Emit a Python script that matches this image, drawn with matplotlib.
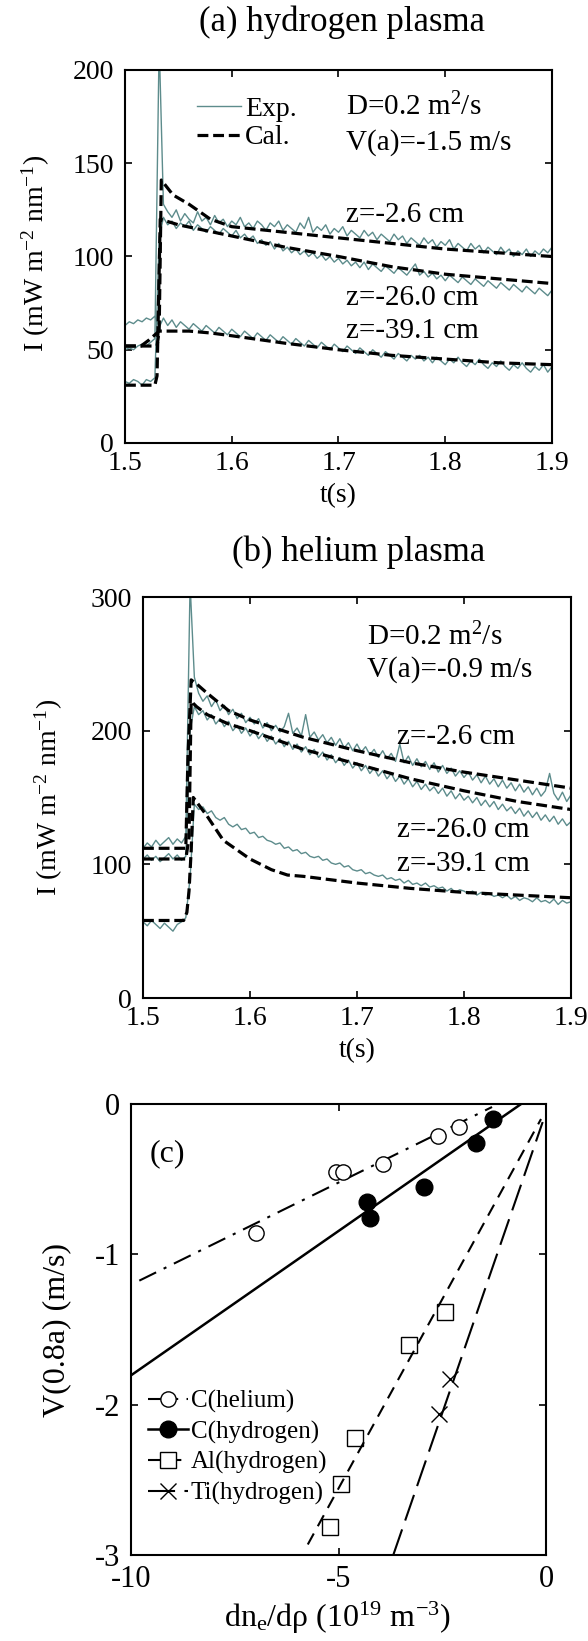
import numpy as np
import matplotlib
matplotlib.use('Agg')
import matplotlib.pyplot as plt
from matplotlib.lines import Line2D

plt.rcParams['font.family'] = ['Liberation Serif', 'DejaVu Serif']
plt.rcParams['mathtext.fontset'] = 'custom'
plt.rcParams['mathtext.rm'] = 'Liberation Serif'
plt.rcParams['mathtext.it'] = 'Liberation Serif:italic'
plt.rcParams['mathtext.bf'] = 'Liberation Serif:bold'
plt.rcParams['axes.unicode_minus'] = False

# ---------------- data: panel (a) hydrogen plasma ----------------
t_exp = 1.5 + 0.004 * np.arange(101)          # sampling times of the measured traces (s)

exp_a_z26 = [50, 51, 50, 52, 53, 52, 54, 56, 215, 128, 124, 121, 125, 119, 123, 120, 118, 124, 119, 121,
             117, 122, 118, 120, 116, 119, 117, 121, 116, 118, 115, 119, 117, 114, 118, 116, 119, 114, 117, 115,
             113, 118, 115, 121, 113, 116, 114, 117, 112, 115, 113, 116, 111, 114, 112, 110, 114, 111, 113, 109,
             112, 110, 108, 112, 109, 111, 107, 110, 108, 106, 110, 107, 109, 105, 108, 106, 109, 104, 107, 105,
             103, 107, 104, 106, 102, 105, 103, 101, 105, 102, 104, 100, 103, 101, 104, 100, 103, 101, 104, 102, 105]
exp_a_z260 = [33, 32, 34, 33, 31, 34, 33, 35, 110, 121, 117, 119, 115, 118, 116, 119, 114, 117, 115, 113,
              116, 114, 112, 115, 113, 111, 114, 110, 112, 109, 111, 107, 109, 106, 108, 104, 107, 103, 105, 102,
              104, 101, 103, 100, 102, 99, 101, 98, 100, 97, 99, 96, 98, 95, 97, 94, 97, 93, 96, 94,
              92, 95, 93, 91, 94, 92, 90, 93, 96, 90, 92, 89, 91, 88, 90, 87, 90, 88, 86, 89,
              87, 85, 88, 86, 84, 87, 85, 83, 86, 84, 82, 85, 83, 81, 84, 82, 80, 83, 81, 79, 82]
exp_a_z391 = [63, 65, 64, 66, 65, 67, 66, 68, 62, 67, 63, 66, 62, 65, 63, 61, 64, 62, 60, 63,
              61, 59, 62, 60, 58, 61, 59, 57, 60, 58, 56, 59, 57, 55, 58, 56, 54, 57, 55, 53,
              56, 54, 52, 55, 53, 51, 54, 52, 50, 53, 51, 49, 52, 50, 48, 51, 49, 47, 50, 48,
              46, 49, 47, 45, 48, 46, 44, 47, 45, 47, 44, 46, 43, 46, 44, 42, 45, 43, 46, 43,
              41, 44, 42, 45, 42, 40, 43, 41, 44, 41, 39, 42, 40, 43, 40, 38, 41, 39, 42, 38, 41]

cal_a_t1 = [1.500, 1.530, 1.532, 1.534, 1.545, 1.560, 1.580, 1.600, 1.650, 1.700, 1.750, 1.800, 1.850, 1.900]
cal_a_z26 = [52, 52, 60, 141, 133, 128, 120, 116, 113, 110, 107, 104, 102, 100]
cal_a_t2 = [1.500, 1.528, 1.530, 1.533, 1.550, 1.600, 1.650, 1.700, 1.750, 1.800, 1.850, 1.900]
cal_a_z260 = [31, 31, 36, 120, 117, 111, 105, 100, 94.5, 90.5, 88, 85.5]
cal_a_t3 = [1.500, 1.515, 1.522, 1.528, 1.532, 1.560, 1.580, 1.600, 1.650, 1.700, 1.750, 1.800, 1.850, 1.900]
cal_a_z391 = [52, 52, 55, 58, 60, 60, 59, 57.5, 53.5, 50, 47, 45, 43, 42]

# ---------------- data: panel (b) helium plasma ----------------
exp_b_z26 = [112, 116, 113, 118, 114, 117, 120, 115, 119, 116, 121, 310, 240, 228, 222, 226, 218, 223, 215, 219,
             212, 216, 209, 213, 206, 210, 205, 209, 202, 206, 200, 204, 199, 203, 213, 198, 202, 196, 212, 195,
             199, 193, 197, 191, 195, 189, 194, 187, 191, 185, 190, 184, 188, 182, 186, 180, 185, 179, 183, 177,
             190, 176, 181, 174, 179, 173, 177, 171, 176, 169, 174, 168, 172, 166, 170, 165, 169, 163, 167, 161,
             166, 160, 164, 158, 163, 157, 161, 155, 160, 154, 158, 152, 157, 151, 155, 168, 153, 148, 154, 147, 152]
exp_b_z260 = [104, 107, 103, 106, 102, 105, 108, 104, 107, 103, 106, 200, 218, 212, 215, 208, 212, 205, 209, 203,
              207, 200, 204, 198, 202, 196, 200, 194, 198, 192, 196, 190, 194, 188, 192, 186, 190, 184, 188, 182,
              186, 180, 184, 178, 182, 176, 180, 174, 178, 172, 176, 170, 174, 168, 172, 166, 170, 164, 168, 162,
              166, 160, 164, 158, 162, 156, 160, 155, 158, 153, 157, 151, 155, 149, 153, 148, 151, 146, 150, 144,
              148, 143, 147, 141, 145, 140, 143, 138, 142, 136, 140, 135, 139, 133, 137, 132, 136, 130, 134, 129, 132]
exp_b_z391 = [57, 54, 58, 55, 52, 56, 53, 50, 55, 57, 60, 90, 145, 141, 143, 138, 140, 135, 133, 135,
              130, 128, 130, 126, 127, 123, 124, 120, 121, 118, 117, 115, 116, 112, 113, 110, 111, 108, 109, 106,
              105, 106, 103, 104, 101, 100, 101, 98, 99, 96, 95, 96, 93, 94, 92, 91, 92, 89, 90, 88,
              89, 86, 88, 85, 86, 84, 86, 83, 84, 82, 83, 80, 82, 79, 81, 80, 78, 80, 77, 79,
              77, 78, 76, 77, 75, 77, 74, 76, 73, 75, 74, 72, 75, 72, 73, 71, 74, 70, 73, 71, 72]

cal_b_t1 = [1.500, 1.540, 1.542, 1.545, 1.550, 1.560, 1.580, 1.600, 1.650, 1.700, 1.750, 1.800, 1.850, 1.900]
cal_b_z26 = [112, 112, 180, 238, 235, 228, 215, 208, 195, 185, 176, 169, 163, 157]
cal_b_t2 = [1.500, 1.540, 1.543, 1.545, 1.550, 1.560, 1.580, 1.600, 1.650, 1.700, 1.750, 1.800, 1.850, 1.900]
cal_b_z260 = [104, 104, 120, 222, 218, 212, 205, 200, 186, 175, 164, 155, 147, 141]
cal_b_t3 = [1.500, 1.538, 1.541, 1.543, 1.545, 1.547, 1.560, 1.575, 1.600, 1.620, 1.635, 1.650, 1.700, 1.750,
            1.800, 1.850, 1.900]
cal_b_z391 = [58, 58, 64, 80, 110, 150, 136, 118, 104, 96, 92, 91, 86, 82, 79, 77, 75]

# ---------------- data: panel (c) ----------------
c_he_x = [-7.0, -5.05, -4.9, -3.92, -2.6, -2.1]
c_he_y = [-0.855, -0.455, -0.455, -0.40, -0.21, -0.15]
c_he_fit_x = [-9.8, -1.3]
c_he_fit_y = [-1.175, -0.02]

c_h_x = [-1.28, -1.68, -2.95, -4.32, -4.25]
c_h_y = [-0.10, -0.26, -0.55, -0.655, -0.76]
c_h_fit_x = [-10.0, -0.6]
c_h_fit_y = [-1.805, 0.0]

al_x = [-2.43, -3.3, -4.6, -4.94, -5.21]
al_y = [-1.385, -1.605, -2.22, -2.53, -2.815]
al_fit_x = [-5.74, -0.12]
al_fit_y = [-2.93, -0.10]

ti_x = [-2.31, -2.57]
ti_y = [-1.83, -2.06]
ti_fit_x = [-3.68, -0.08]
ti_fit_y = [-3.0, -0.12]

time_ticks = [1.5, 1.6, 1.7, 1.8, 1.9]
time_ticklabels = ['1.5', '1.6', '1.7', '1.8', '1.9']
a_yticks = [0, 50, 100, 150, 200]
b_yticks = [0, 100, 200, 300]
c_xticks = [-10, -5, 0]
c_xticklabels = ['-10', '-5', '0']
c_yticks = [-3, -2, -1, 0]
c_yticklabels = ['-3', '-2', '-1', '0']

# ---------------- figure ----------------
W, H = 588, 1641
fig = plt.figure(figsize=(W / 100, H / 100), dpi=100)

def box(l, t, r, b):
    return [l / W, 1 - b / H, (r - l) / W, (b - t) / H]

EXPC = '#5d8c8c'
CAL_LS = (0, (3.4, 1.5))

def style(ax, fs, xpad=6, ypad=8):
    for s in ax.spines.values():
        s.set_linewidth(1.5)
    ax.tick_params(direction='in', top=True, right=True, length=5, width=1.2, labelsize=fs)
    ax.tick_params(axis='x', pad=xpad)
    ax.tick_params(axis='y', pad=ypad)

# panel (a)
axa = fig.add_axes(box(125, 70, 552, 443))
for ys in (exp_a_z26, exp_a_z260, exp_a_z391):
    axa.plot(t_exp, ys, color=EXPC, lw=1.0, zorder=2)
axa.plot(cal_a_t1, cal_a_z26, color='black', lw=2.3, ls=CAL_LS, zorder=3)
axa.plot(cal_a_t2, cal_a_z260, color='black', lw=2.3, ls=CAL_LS, zorder=3)
axa.plot(cal_a_t3, cal_a_z391, color='black', lw=2.3, ls=CAL_LS, zorder=3)
axa.set_xlim(1.5, 1.9)
axa.set_ylim(0, 200)
axa.set_xticks(time_ticks)
axa.set_xticklabels(time_ticklabels)
axa.set_yticks(a_yticks)
style(axa, 20)
axa.set_xlabel('t(s)', fontsize=20, va='center')
axa.xaxis.set_label_coords(0.499, -0.14)
axa.set_ylabel('I (mW m$^{-2}$ nm$^{-1}$)', fontsize=20, va='center')
axa.yaxis.set_label_coords(-0.208, 0.507)
hl = [Line2D([], [], color=EXPC, lw=1.0), Line2D([], [], color='black', lw=2.3, ls=CAL_LS)]
axa.legend(hl, ['Exp.', 'Cal.'], loc='upper left', bbox_to_anchor=(0.169, 0.93), frameon=False,
           fontsize=20, handlelength=1.58, handletextpad=0.15, labelspacing=0.12,
           borderpad=0, borderaxespad=0)
for s, yv in (('D=0.2 m$^2$/s', 180), ('V(a)=-1.5 m/s', 161), ('z=-2.6 cm', 122),
              ('z=-26.0 cm', 77.5), ('z=-39.1 cm', 60)):
    axa.text(1.707, yv, s, fontsize=21, ha='left', va='center')
fig.text(342 / W, 1 - 22 / H, '(a) hydrogen plasma', fontsize=25, ha='center', va='center')

# panel (b)
axb = fig.add_axes(box(143, 597, 571, 998))
for ys in (exp_b_z26, exp_b_z260, exp_b_z391):
    axb.plot(t_exp, ys, color=EXPC, lw=1.0, zorder=2)
axb.plot(cal_b_t1, cal_b_z26, color='black', lw=2.3, ls=CAL_LS, zorder=3)
axb.plot(cal_b_t2, cal_b_z260, color='black', lw=2.3, ls=CAL_LS, zorder=3)
axb.plot(cal_b_t3, cal_b_z391, color='black', lw=2.3, ls=CAL_LS, zorder=3)
axb.set_xlim(1.5, 1.9)
axb.set_ylim(0, 300)
axb.set_xticks(time_ticks)
axb.set_xticklabels(time_ticklabels)
axb.set_yticks(b_yticks)
style(axb, 20)
axb.set_xlabel('t(s)', fontsize=20, va='center')
axb.xaxis.set_label_coords(0.5, -0.13)
axb.set_ylabel('I (mW m$^{-2}$ nm$^{-1}$)', fontsize=20, va='center')
axb.yaxis.set_label_coords(-0.22, 0.50)
for s, xv, yv in (('D=0.2 m$^2$/s', 1.709, 270), ('V(a)=-0.9 m/s', 1.709, 246),
                  ('z=-2.6 cm', 1.737, 195), ('z=-26.0 cm', 1.737, 126), ('z=-39.1 cm', 1.737, 100)):
    axb.text(xv, yv, s, fontsize=21, ha='left', va='center')
fig.text(359 / W, 1 - 552 / H, '(b) helium plasma', fontsize=25, ha='center', va='center')

# panel (c)
axc = fig.add_axes(box(131, 1104, 546, 1555))
LS_HE = (0, (9, 4, 1.5, 4))
LS_AL = (0, (6, 4))
LS_TI = (0, (13, 4.5))
axc.plot(c_he_fit_x, c_he_fit_y, color='black', lw=1.5, ls=LS_HE)
axc.plot(c_h_fit_x, c_h_fit_y, color='black', lw=1.8, ls='-')
axc.plot(al_fit_x, al_fit_y, color='black', lw=1.5, ls=LS_AL)
axc.plot(ti_fit_x, ti_fit_y, color='black', lw=1.5, ls=LS_TI)
axc.plot(c_he_x, c_he_y, ls='none', marker='o', ms=11, mfc='white', mec='black', mew=1.0, zorder=4)
axc.plot(c_h_x, c_h_y, ls='none', marker='o', ms=12, mfc='black', mec='black', mew=1.0, zorder=4)
axc.plot(al_x, al_y, ls='none', marker='s', ms=11, mfc='none', mec='black', mew=1.0, zorder=4)
axc.plot(ti_x, ti_y, ls='none', marker='x', ms=12, color='black', mew=1.0, zorder=4)
axc.set_xlim(-10, 0)
axc.set_ylim(-3, 0)
axc.set_xticks(c_xticks)
axc.set_xticklabels(c_xticklabels)
axc.set_yticks(c_yticks)
axc.set_yticklabels(c_yticklabels)
style(axc, 22, xpad=7, ypad=8)
axc.set_xlabel('dn$_{\\rm e}$/dρ (10$^{19}$ m$^{-3}$)', fontsize=23, va='center')
axc.xaxis.set_label_coords(0.497, -0.14)
axc.set_ylabel('V(0.8a) (m/s)', fontsize=23, va='center')
axc.yaxis.set_label_coords(-0.18, 0.498)
axc.text(0.087, 0.889, '(c)', transform=axc.transAxes, fontsize=23, ha='center', va='center')
hc = [Line2D([], [], color='black', lw=1.5, ls=LS_HE, marker='o', ms=11, mfc='white', mec='black', mew=1.0),
      Line2D([], [], color='black', lw=1.8, ls='-', marker='o', ms=12, mfc='black', mec='black'),
      Line2D([], [], color='black', lw=1.5, ls=LS_AL, marker='s', ms=11, mfc='white', mec='black', mew=1.0),
      Line2D([], [], color='black', lw=1.5, ls=LS_TI, marker='x', ms=12, mew=1.0)]
axc.legend(hc, ['C(helium)', 'C(hydrogen)', 'Al(hydrogen)', 'Ti(hydrogen)'], loc='upper left',
           bbox_to_anchor=(0.041, 0.366), frameon=False, fontsize=18, handlelength=1.6,
           handletextpad=0.1, labelspacing=0.3, borderpad=0, borderaxespad=0, numpoints=1)

fig.savefig('out.png', dpi=100)
